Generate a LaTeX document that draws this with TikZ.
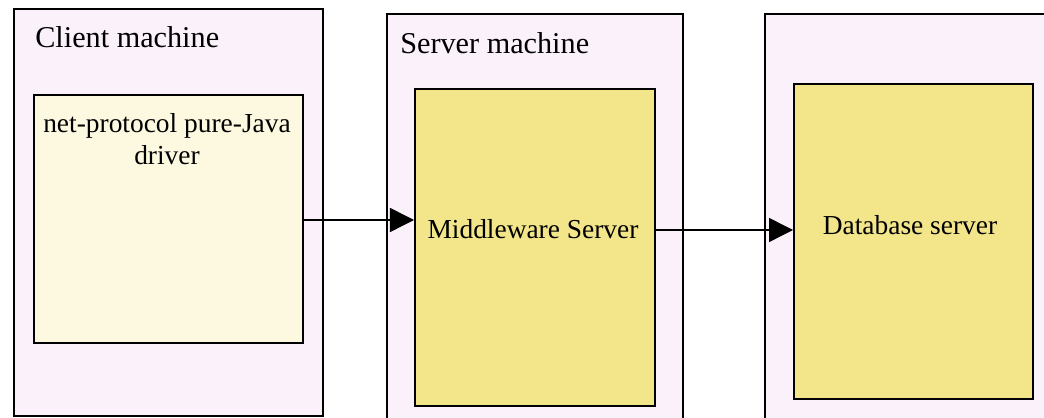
\documentclass[tikz,border=0pt]{standalone}
\usepackage{fontspec}
\setmainfont{Liberation Serif}
\usepackage{tikz}
\usetikzlibrary{arrows.meta,positioning}

\definecolor{machinepink}{RGB}{251,241,251}
\definecolor{driverpale}{RGB}{252,249,224}
\definecolor{serveryellow}{RGB}{243,230,138}

\tikzset{
	machine/.style = {draw, line width = 1.2pt, fill = machinepink, anchor = north west, inner sep = 0pt},
	part/.style = {draw, line width = 1.2pt, anchor = north west, inner sep = 0pt},
	caption/.style = {font = \fontsize{21.5}{25}\selectfont, inner sep = 0pt},
	inside/.style = {font = \fontsize{19.5}{23}\selectfont, inner sep = 0pt},
	link/.style = {line width = 1pt, -{Triangle[length=0.6cm,width=0.6cm]}}
}

\begin{document}
\begin{tikzpicture}[x = 0.025cm, y = -0.025cm]
		\useasboundingbox (0,0) rectangle (1044,418);
		\fill[white] (0,0) rectangle (1044,418);
		
		% the three machines
		\node[machine, minimum width = 7.725cm, minimum height = 10.175cm] (client) at (13,8) {};
		\node[machine, minimum width = 7.4cm, minimum height = 10.3cm] (server) at (386,13) {};
		\node[machine, minimum width = 7.4cm, minimum height = 10.3cm] (dbhost) at (764,13) {};
		
		\node[caption, anchor = west] (clientlabel) at (35,37) {Client machine};
		\node[caption, anchor = west] (serverlabel) at (400,43) {Server machine};
		
		% the boxes inside
		\node[part, fill = driverpale, minimum width = 6.725cm, minimum height = 6.2cm] (driver) at (33,94) {};
		\node[part, fill = serveryellow, minimum width = 6cm, minimum height = 7.925cm] (middleware) at (414,88) {};
		\node[part, fill = serveryellow, minimum width = 5.975cm, minimum height = 7.875cm] (database) at (793,83) {};
		
		\node[inside, align = center, anchor = north] (drivertext) at (167,113) {net-protocol pure-Java\\driver};
		\node[inside] (middlewaretext) at (533,229) {Middleware Server};
		\node[inside] (databasetext) at (910,225) {Database server};
		
		% connections
		\coordinate (out1) at (302,220);
		\coordinate (out2) at (654,230);
		\draw[link] (out1) -- (out1 -| middleware.west);
		\draw[link] (out2) -- (out2 -| database.west);
\end{tikzpicture}
\end{document}
